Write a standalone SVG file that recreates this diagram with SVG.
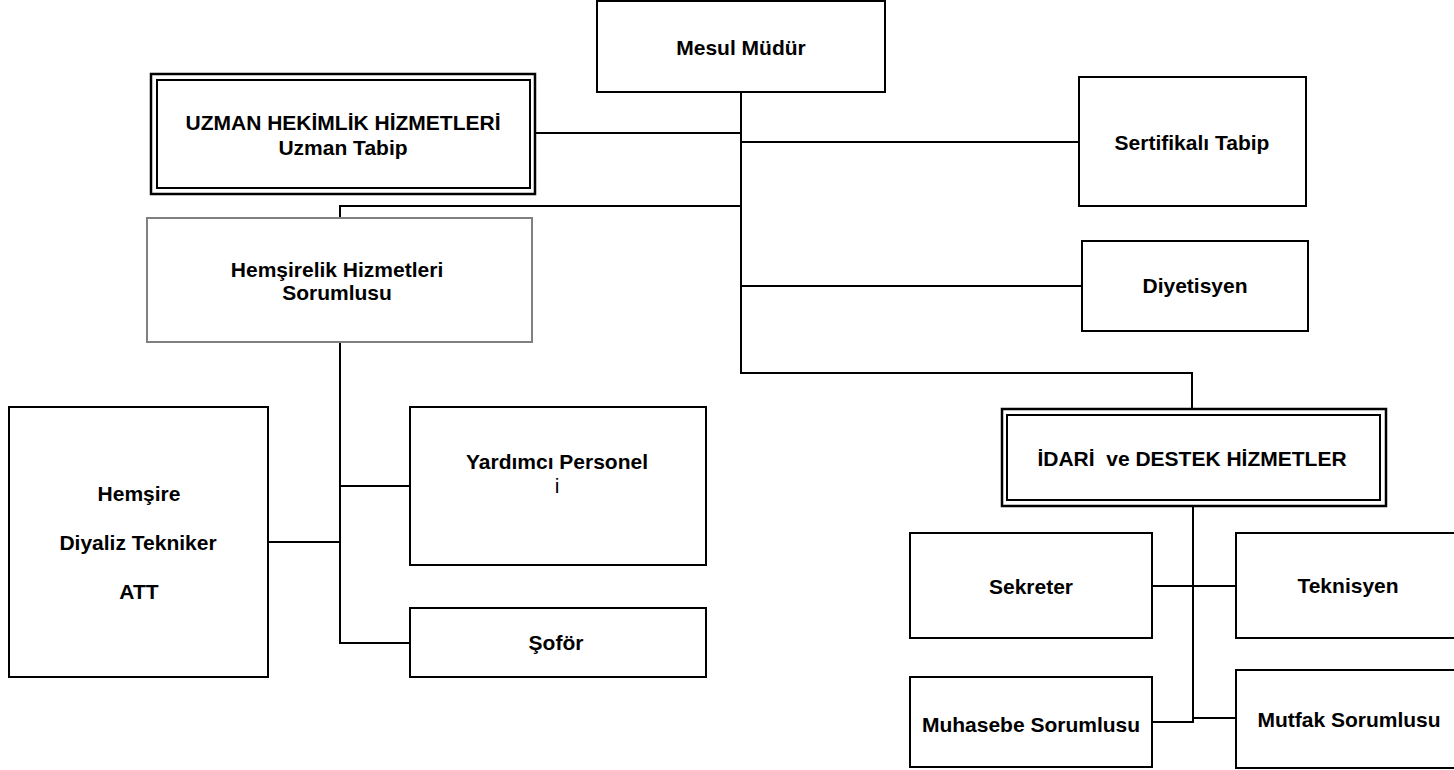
<svg xmlns="http://www.w3.org/2000/svg" width="1454" height="770" viewBox="0 0 1454 770">
<style>
.box{fill:#fff;stroke:#000;stroke-width:2}
.gbox{fill:#fff;stroke:#808080;stroke-width:2}
.outer{fill:#fff;stroke:#000;stroke-width:2.5}
.inner{fill:none;stroke:#000;stroke-width:2}
.ln{stroke:#000;stroke-width:2;fill:none}
.t{font-family:"Liberation Sans",Arial,sans-serif;font-size:21px;font-weight:bold;text-anchor:middle;fill:#000}
.r{font-weight:normal}
</style>
<rect width="1454" height="770" fill="#fff"/>
<g id="connectors">
<line class="ln" x1="741" y1="92" x2="741" y2="374"/>
<line class="ln" x1="535" y1="133" x2="741" y2="133"/>
<line class="ln" x1="741" y1="142" x2="1079" y2="142"/>
<polyline class="ln" points="741,206 340,206 340,218"/>
<line class="ln" x1="741" y1="286" x2="1082" y2="286"/>
<polyline class="ln" points="740,373 1192,373 1192,409"/>
<line class="ln" x1="1193" y1="506" x2="1193" y2="723"/>
<line class="ln" x1="1152" y1="586" x2="1236" y2="586"/>
<line class="ln" x1="1152" y1="722" x2="1193" y2="722"/>
<line class="ln" x1="1193" y1="718" x2="1236" y2="718"/>
<line class="ln" x1="340" y1="342" x2="340" y2="644"/>
<line class="ln" x1="340" y1="486" x2="410" y2="486"/>
<line class="ln" x1="268" y1="542" x2="340" y2="542"/>
<line class="ln" x1="340" y1="643" x2="410" y2="643"/>
</g>
<g id="mesul">
<rect class="box" x="597" y="1" width="288" height="91"/>
<text class="t" x="741" y="55">Mesul Müdür</text>
</g>
<g id="uzman">
<rect class="outer" x="151" y="74" width="384" height="120"/>
<rect class="inner" x="157" y="80" width="373" height="108"/>
<text class="t" x="343" y="130">UZMAN HEKİMLİK HİZMETLERİ</text>
<text class="t" x="343" y="155">Uzman Tabip</text>
</g>
<g id="sertifikali">
<rect class="box" x="1079" y="77" width="227" height="129"/>
<text class="t" x="1192" y="150">Sertifikalı Tabip</text>
</g>
<g id="hemsirelik">
<rect class="gbox" x="147" y="218" width="385" height="124"/>
<text class="t" x="337" y="277">Hemşirelik Hizmetleri</text>
<text class="t" x="337" y="300">Sorumlusu</text>
</g>
<g id="diyetisyen">
<rect class="box" x="1082" y="241" width="226" height="90"/>
<text class="t" x="1195" y="293">Diyetisyen</text>
</g>
<g id="hemsire">
<rect class="box" x="9" y="407" width="259" height="270"/>
<text class="t" x="139" y="501">Hemşire</text>
<text class="t" x="138" y="550">Diyaliz Tekniker</text>
<text class="t" x="139" y="599">ATT</text>
</g>
<g id="yardimci">
<rect class="box" x="410" y="407" width="296" height="158"/>
<text class="t" x="557" y="469">Yardımcı Personel</text>
<text class="t r" x="557" y="493">i</text>
</g>
<g id="sofor">
<rect class="box" x="410" y="608" width="296" height="69"/>
<text class="t" x="556" y="650">Şoför</text>
</g>
<g id="idari">
<rect class="outer" x="1002" y="409" width="384" height="97"/>
<rect class="inner" x="1007" y="415" width="373" height="85"/>
<text class="t" x="1192" y="466" xml:space="preserve">İDARİ  ve DESTEK HİZMETLER</text>
</g>
<g id="sekreter">
<rect class="box" x="910" y="533" width="242" height="105"/>
<text class="t" x="1031" y="594">Sekreter</text>
</g>
<g id="teknisyen">
<rect class="box" x="1236" y="533" width="222" height="105"/>
<text class="t" x="1348" y="593">Teknisyen</text>
</g>
<g id="muhasebe">
<rect class="box" x="910" y="677" width="242" height="90"/>
<text class="t" x="1031" y="732">Muhasebe Sorumlusu</text>
</g>
<g id="mutfak">
<rect class="box" x="1236" y="670" width="222" height="98"/>
<text class="t" x="1349" y="727">Mutfak Sorumlusu</text>
</g>
</svg>
